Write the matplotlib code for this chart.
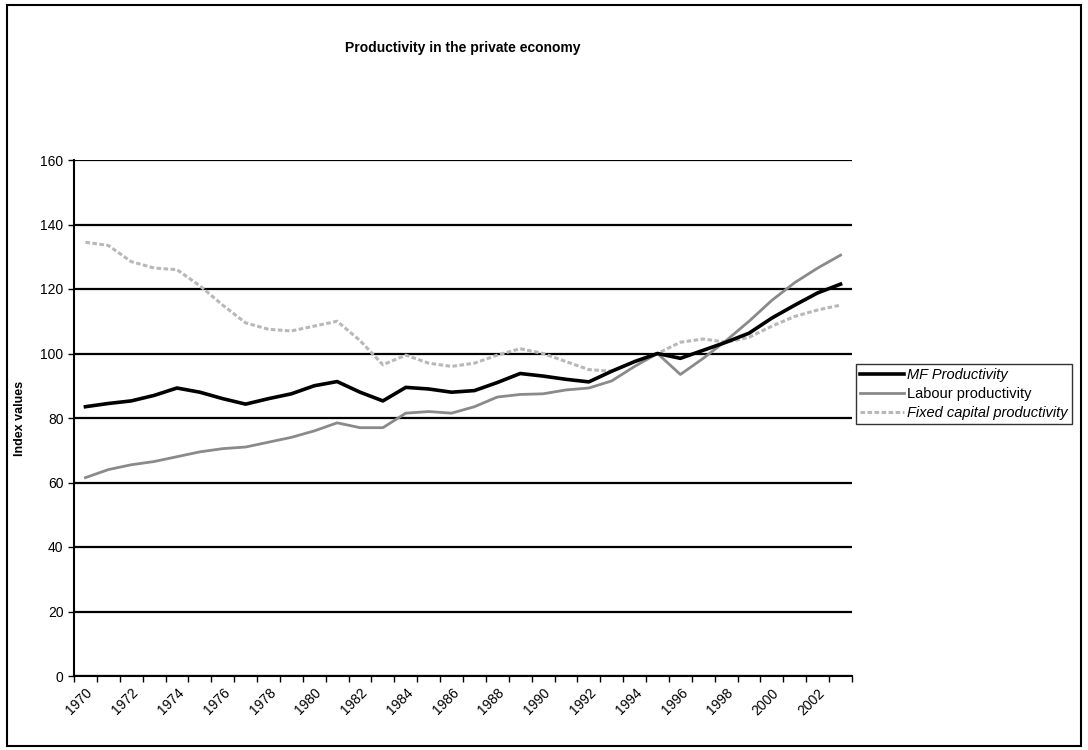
import matplotlib
matplotlib.use("Agg")
import matplotlib.pyplot as plt
from matplotlib.patches import Rectangle

plt.rcParams['font.family'] = ['Liberation Sans', 'DejaVu Sans']

years = list(range(1970, 2004))
mf_productivity = [83.5, 84.5, 85.3, 87.0, 89.3, 88.0, 86.0, 84.3, 86.0, 87.5,
                   90.0, 91.3, 88.0, 85.3, 89.5, 89.0, 88.0, 88.5, 91.0, 93.8,
                   93.0, 92.0, 91.2, 94.5, 97.5, 100.0, 98.5, 101.0, 103.5, 106.3,
                   111.0, 115.0, 118.8, 121.5]
labour_productivity = [61.5, 64.0, 65.5, 66.5, 68.0, 69.5, 70.5, 71.0, 72.5, 74.0,
                       76.0, 78.5, 77.0, 77.0, 81.5, 82.0, 81.5, 83.5, 86.5, 87.3,
                       87.5, 88.7, 89.3, 91.5, 96.0, 100.0, 93.5, 98.5, 104.0, 110.0,
                       116.5, 122.0, 126.5, 130.5]
fixed_capital_productivity = [134.5, 133.5, 128.5, 126.5, 126.0, 121.0, 115.0, 109.5, 107.5, 107.0,
                              108.5, 110.0, 104.0, 96.5, 99.5, 97.0, 96.0, 97.0, 99.5, 101.5,
                              100.0, 97.5, 95.0, 94.5, 97.5, 100.0, 103.5, 104.5, 103.5, 105.0,
                              108.5, 111.5, 113.5, 115.0]
y_ticks = [0, 20, 40, 60, 80, 100, 120, 140, 160]
x_tick_labels = [str(y) for y in range(1970, 2004, 2)]

fig = plt.figure(figsize=(10.88, 7.5), dpi=100)
ax = fig.add_axes([74/1088, 1-676/750, (852-74)/1088, (676-160)/750])

for yv in y_ticks:
    ax.axhline(yv, color='black', lw=1.6, zorder=1)

ax.plot(years, fixed_capital_productivity, color='#b8b8b8', lw=2.2,
        linestyle=(0, (1.5, 0.8)), zorder=2, label='Fixed capital productivity')
ax.plot(years, labour_productivity, color='#8a8a8a', lw=2.0, zorder=3,
        label='Labour productivity')
ax.plot(years, mf_productivity, color='black', lw=2.6, zorder=4, label='MF Productivity')

ax.set_xlim(1969.5, 2003.5)
ax.set_ylim(0, 160)
ax.set_yticks(y_ticks)
ax.set_yticklabels([str(v) for v in y_ticks], fontsize=10)
ax.set_xticks(list(range(1970, 2004, 2)))
ax.set_xticklabels(x_tick_labels, rotation=45, ha='right', rotation_mode='anchor', fontsize=10)
ax.set_xticks([y + 0.5 for y in range(1969, 2004)], minor=True)
ax.tick_params(axis='x', which='major', length=0, pad=7)
ax.tick_params(axis='x', which='minor', length=4, direction='out', width=1)
ax.tick_params(axis='y', length=4, direction='out', width=1)
for s in ['top', 'right']:
    ax.spines[s].set_visible(False)
ax.spines['left'].set_linewidth(1.5)
ax.spines['bottom'].set_linewidth(1.5)

ax.set_ylabel('Index values', fontsize=9, fontweight='bold')
ax.yaxis.set_label_coords(-0.062, 0.5)

fig.text(463/1088, 1-48/750, 'Productivity in the private economy', ha='center', va='center',
         fontsize=10, fontweight='bold')

handles, labels = ax.get_legend_handles_labels()
order = [2, 1, 0]
leg = fig.legend([handles[i] for i in order], [labels[i] for i in order],
                 loc='center left', bbox_to_anchor=(853/1088, 1-394/750),
                 fontsize=10.5, frameon=True, fancybox=False, edgecolor='black',
                 handlelength=3.0, handletextpad=0.2, borderpad=0.3, labelspacing=0.35,
                 borderaxespad=0.2)
leg.get_frame().set_linewidth(1.0)
for t in leg.get_texts():
    if t.get_text() in ('Fixed capital productivity', 'MF Productivity'):
        t.set_style('italic')

fig.patches.append(Rectangle((0.006, 0.006), 0.988, 0.988, transform=fig.transFigure,
                             fill=False, edgecolor='black', lw=1.5))

fig.savefig('out.png', dpi=100)
